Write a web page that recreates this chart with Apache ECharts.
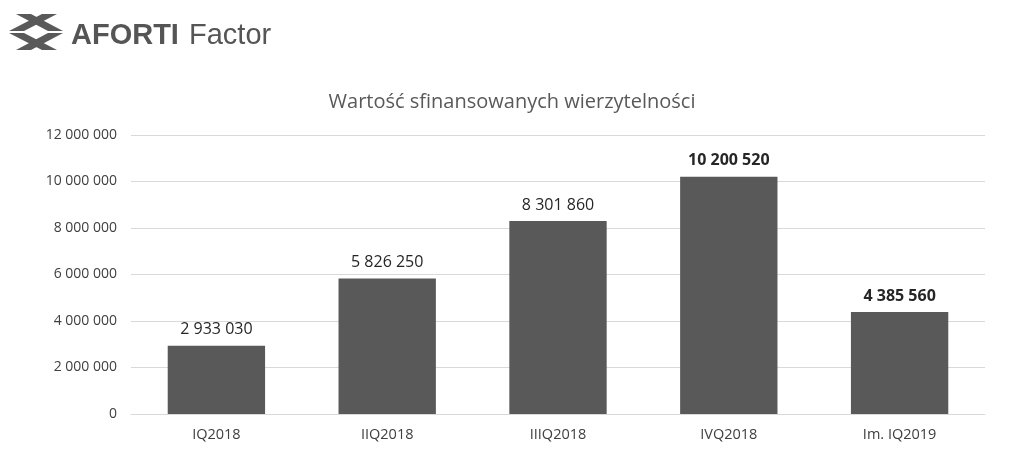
<!DOCTYPE html>
<html>
<head>
<meta charset="utf-8">
<script src="https://cdn.jsdelivr.net/npm/echarts@6/dist/echarts.min.js"></script>
<style>html,body{margin:0;padding:0;background:#fff;}#c{width:1024px;height:473px;}</style>
</head>
<body>
<div id="c"></div>
<script>
const categories = ['IQ2018', 'IIQ2018', 'IIIQ2018', 'IVQ2018', 'Im. IQ2019'];
const values = [2933030, 5826250, 8301860, 10200520, 4385560];
const yTicks = { min: 0, max: 12000000, interval: 2000000 };
const titleText = 'Wartość sfinansowanych wierzytelności';

function fmt(v) { return String(v).replace(/\B(?=(\d{3})+(?!\d))/g, ' '); }

const chart = echarts.init(document.getElementById('c'), null, { renderer: 'canvas' });
const iconColor = '#595959';
chart.setOption({
  backgroundColor: '#ffffff',
  animation: false,
  title: {
    text: titleText, left: 'center', top: 87,
    textStyle: { fontFamily: 'Open Sans', fontSize: 20, fontWeight: 'normal', color: '#595959' }
  },
  grid: { left: 131, right: 39, top: 135, bottom: 59 },
  xAxis: {
    type: 'category', data: categories,
    axisLine: { show: true, lineStyle: { color: '#d9d9d9', width: 1 } },
    axisTick: { show: false },
    axisLabel: { margin: 13, fontFamily: 'Open Sans', fontSize: 14.5, color: '#404040' }
  },
  yAxis: {
    type: 'value', min: yTicks.min, max: yTicks.max, interval: yTicks.interval,
    axisLine: { show: false }, axisTick: { show: false },
    splitLine: { lineStyle: { color: '#d9d9d9', width: 1 } },
    axisLabel: { margin: 14, fontFamily: 'Open Sans', fontSize: 14, color: '#404040', formatter: fmt }
  },
  series: [{
    type: 'bar', barWidth: '57%',
    data: values.map((v, i) => ({
      value: v,
      label: { fontWeight: i >= 3 ? 'bold' : 'normal' }
    })),
    itemStyle: { color: '#595959' },
    label: {
      show: true, position: 'top', distance: 8,
      fontFamily: 'Open Sans', fontSize: 16, color: '#262626',
      formatter: p => fmt(p.value)
    }
  }],
  graphic: [
    { type: 'polygon', shape: { points: [[16,14],[31,14],[63,31],[48,31]] }, style: { fill: iconColor } },
    { type: 'polygon', shape: { points: [[57,14],[42,14],[9,31],[24,31]] }, style: { fill: iconColor } },
    { type: 'polygon', shape: { points: [[9,33],[24,33],[57,50],[42,50]] }, style: { fill: iconColor } },
    { type: 'polygon', shape: { points: [[63,33],[48,33],[16,50],[31,50]] }, style: { fill: iconColor } },
    { type: 'text', left: 71, top: 21, style: { text: 'AFORTI', fontFamily: 'Liberation Sans', fontWeight: 'bold', fontSize: 29, fill: '#555555' } },
    { type: 'text', left: 189, top: 21, style: { text: 'Factor', fontFamily: 'Liberation Sans', fontWeight: 'normal', fontSize: 29, fill: '#555555' } }
  ]
});
</script>
</body>
</html>
